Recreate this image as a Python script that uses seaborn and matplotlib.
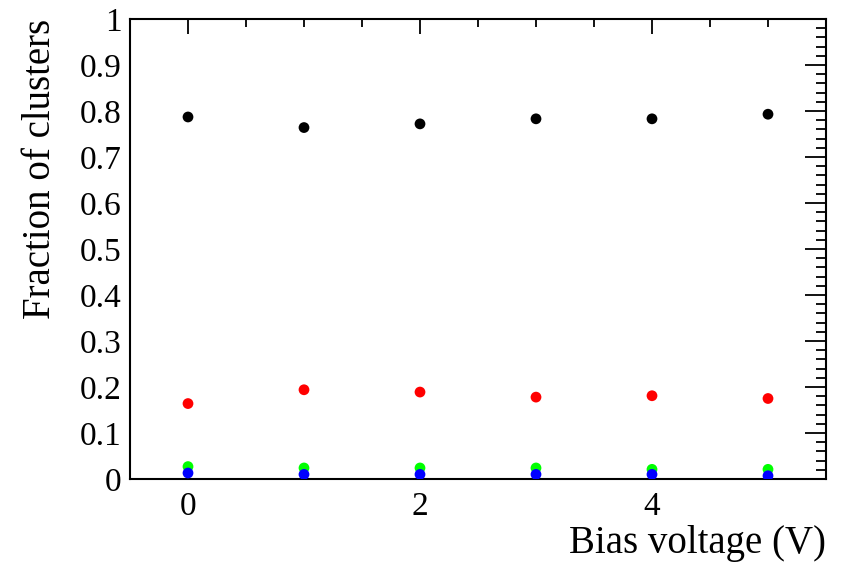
import matplotlib
matplotlib.use("Agg")
import matplotlib.pyplot as plt
import seaborn as sns
import pandas as pd
from matplotlib.ticker import MultipleLocator, FixedLocator

# ---- data ----
bias_voltage = [0, 1, 2, 3, 4, 5]
frac_black = [0.787, 0.764, 0.772, 0.783, 0.783, 0.793]
frac_red = [0.164, 0.194, 0.189, 0.178, 0.181, 0.175]
frac_green = [0.027, 0.024, 0.024, 0.024, 0.021, 0.021]
frac_blue = [0.013, 0.010, 0.010, 0.010, 0.010, 0.007]
series_names = ["black", "red", "green", "blue"]
series_colors = ["#000000", "#ff0000", "#00ff00", "#0000ff"]
y_ticks = [0, 0.1, 0.2, 0.3, 0.4, 0.5, 0.6, 0.7, 0.8, 0.9, 1]
y_tick_labels = ["0", "0.1", "0.2", "0.3", "0.4", "0.5", "0.6", "0.7", "0.8", "0.9", "1"]
x_ticks = [0, 2, 4]
x_tick_labels = ["0", "2", "4"]
x_label = "Bias voltage (V)"
y_label = "Fraction of clusters"

rows = []
for name, vals in zip(series_names, [frac_black, frac_red, frac_green, frac_blue]):
    for xv, yv in zip(bias_voltage, vals):
        rows.append({"x": xv, "y": yv, "series": name})
df = pd.DataFrame(rows)

sns.set_theme(style="white")
plt.rcParams["font.family"] = ["Liberation Serif", "DejaVu Serif"]

fig = plt.figure(figsize=(8.48, 5.62), dpi=100)
ax = fig.add_axes([130 / 848, 83 / 562, 696 / 848, 460 / 562])

sns.scatterplot(data=df, x="x", y="y", hue="series", hue_order=series_names,
                palette=series_colors, s=60, linewidth=0, legend=False, ax=ax,
                zorder=3)

ax.set_xlim(-0.5, 5.5)
ax.set_ylim(0, 1)

ax.xaxis.set_major_locator(FixedLocator(x_ticks))
ax.set_xticklabels(x_tick_labels)
ax.xaxis.set_minor_locator(MultipleLocator(0.5))
ax.yaxis.set_major_locator(FixedLocator(y_ticks))
ax.set_yticklabels(y_tick_labels)
ax.yaxis.set_minor_locator(MultipleLocator(0.02))

for sp in ax.spines.values():
    sp.set_visible(True)
    sp.set_color("black")
    sp.set_linewidth(1.5)

ax.tick_params(axis="both", which="both", direction="in", top=True, right=True,
               color="black", width=1.3, labelsize=24, labelcolor="black")
ax.tick_params(axis="y", which="major", length=15, pad=6)
ax.tick_params(axis="y", which="minor", length=7.5)
ax.tick_params(axis="x", which="major", length=11, pad=9)
ax.tick_params(axis="x", which="minor", length=5.5)

ax.set_xlabel(x_label, fontsize=28, color="black")
ax.xaxis.set_label_coords(1.0, -0.1)
ax.xaxis.label.set_horizontalalignment("right")
ax.xaxis.label.set_verticalalignment("top")
ax.set_ylabel(y_label, fontsize=28, color="black")
ax.yaxis.set_label_coords(-0.128, 1.0)
ax.yaxis.label.set_horizontalalignment("right")
ax.yaxis.label.set_verticalalignment("center")

fig.savefig("out.png", dpi=100, facecolor="white")
